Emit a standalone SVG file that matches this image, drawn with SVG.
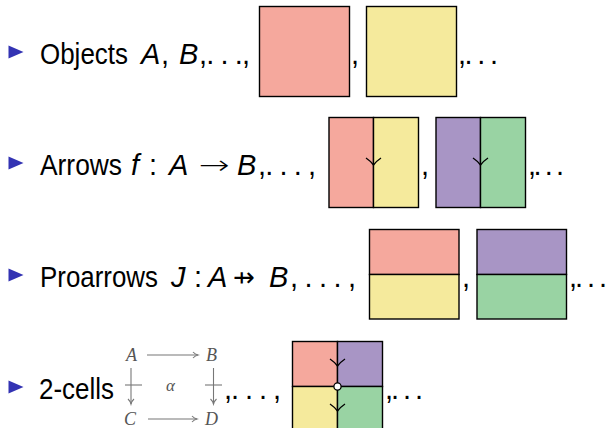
<svg xmlns="http://www.w3.org/2000/svg" width="608" height="428" viewBox="0 0 608 428">
<style>
.t{font-family:"Liberation Sans",Arial,sans-serif;font-size:29px;fill:#000}
.i{font-style:italic}
.sym{font-family:"DejaVu Sans",sans-serif;font-weight:200;font-size:26px;fill:#000}
.cd{font-family:"Liberation Serif","Times New Roman",serif;font-style:italic;font-size:18px;fill:#555}
.box{stroke:#000;stroke-width:1.4}
.pink{fill:#F5A89D}
.yel{fill:#F5EA9C}
.pur{fill:#A895C5}
.grn{fill:#99D3A3}
.tip{stroke:#000;stroke-width:1.3;fill:none}
.cdl{stroke:#777;stroke-width:1.1;fill:none}
.bul{fill:#3333B3}
</style>
<defs>
<path id="tri" d="M0,-6.5 L15,0 L0,6.5 Z"/>
<path id="vtip" d="M-7.5,-7 Q-3,-4 0,0 Q3,-4 7.5,-7"/>
<marker id="ah" markerWidth="8" markerHeight="8" refX="6" refY="4" orient="auto" markerUnits="userSpaceOnUse">
<path d="M1,1 Q3,3.2 6,4 Q3,4.8 1,7" stroke="#777" stroke-width="1.1" fill="none"/>
</marker>
</defs>

<g id="row1">
<use href="#tri" x="8.5" y="52" class="bul"/>
<text class="t" x="40" y="64" textLength="88" lengthAdjust="spacingAndGlyphs">Objects</text>
<text class="t i" x="141" y="64">A</text>
<text class="t" x="161" y="64">,</text>
<text class="t i" x="179" y="64">B</text>
<text class="t" x="199" y="64" textLength="51" lengthAdjust="spacing">,. . .,</text>
<rect class="box pink" x="259.5" y="6.5" width="90" height="90"/>
<text class="t" x="351" y="64">,</text>
<rect class="box yel" x="366.5" y="6.5" width="90" height="90"/>
<text class="t" x="458" y="64" textLength="40" lengthAdjust="spacing">,. . .</text>
</g>

<g id="row2">
<use href="#tri" x="8.5" y="163" class="bul"/>
<text class="t" x="40" y="175" textLength="82" lengthAdjust="spacingAndGlyphs">Arrows</text>
<text class="t i" x="131" y="175">f</text>
<text class="t" x="149" y="175">:</text>
<text class="t i" x="169" y="175">A</text>
<text class="sym" x="199" y="174" textLength="31" lengthAdjust="spacingAndGlyphs">→</text>
<text class="t i" x="237" y="175">B</text>
<text class="t" x="258" y="175" textLength="58" lengthAdjust="spacing">,. . . ,</text>
<rect class="box pink" x="329" y="117.5" width="44.5" height="90"/>
<rect class="box yel" x="373.5" y="117.5" width="45" height="90"/>
<use href="#vtip" x="373.5" y="165" class="tip"/>
<text class="t" x="421" y="175">,</text>
<rect class="box pur" x="436" y="117.5" width="44.5" height="90"/>
<rect class="box grn" x="480.5" y="117.5" width="45" height="90"/>
<use href="#vtip" x="480.5" y="165" class="tip"/>
<text class="t" x="528" y="175" textLength="36" lengthAdjust="spacing">,. . .</text>
</g>

<g id="row3">
<use href="#tri" x="8.5" y="275" class="bul"/>
<text class="t" x="40" y="287" textLength="118" lengthAdjust="spacingAndGlyphs">Proarrows</text>
<text class="t i" x="171" y="287">J</text>
<text class="t" x="194" y="287">:</text>
<text class="t i" x="208" y="287">A</text>
<text class="sym" x="233" y="286" textLength="22" lengthAdjust="spacingAndGlyphs">⇸</text>
<text class="t i" x="269" y="287">B</text>
<text class="t" x="290" y="287" textLength="66" lengthAdjust="spacing">, . . . ,</text>
<rect class="box pink" x="369.5" y="229.5" width="89.5" height="45"/>
<rect class="box yel" x="369.5" y="274.5" width="89.5" height="44.5"/>
<text class="t" x="462" y="287">,</text>
<rect class="box pur" x="477" y="229.5" width="89.5" height="45"/>
<rect class="box grn" x="477" y="274.5" width="89.5" height="44.5"/>
<text class="t" x="569" y="287" textLength="38" lengthAdjust="spacing">,. . .</text>
</g>

<g id="row4">
<use href="#tri" x="8.5" y="387" class="bul"/>
<text class="t" x="39" y="399" textLength="75" lengthAdjust="spacingAndGlyphs">2-cells</text>
<g id="square">
<text class="cd" x="126" y="361">A</text>
<text class="cd" x="206" y="361">B</text>
<text class="cd" x="124" y="425">C</text>
<text class="cd" x="205" y="425">D</text>
<text class="cd" x="166" y="391" style="font-size:17px">α</text>
<g id="connectors">
<line class="cdl" x1="147" y1="355" x2="198" y2="355" marker-end="url(#ah)"/>
<line class="cdl" x1="148" y1="419" x2="197" y2="419" marker-end="url(#ah)"/>
<line class="cdl" x1="131" y1="368" x2="131" y2="404" marker-end="url(#ah)"/>
<line class="cdl" x1="125" y1="385" x2="142" y2="385"/>
<line class="cdl" x1="213.5" y1="368" x2="213.5" y2="404" marker-end="url(#ah)"/>
<line class="cdl" x1="205" y1="385" x2="222" y2="385"/>
</g>
</g>
<text class="t" x="224" y="399" textLength="57" lengthAdjust="spacing">,. . . ,</text>
<rect class="box pink" x="292.5" y="341.5" width="45" height="45"/>
<rect class="box pur" x="337.5" y="341.5" width="45" height="45"/>
<rect class="box yel" x="292.5" y="386.5" width="45" height="45"/>
<rect class="box grn" x="337.5" y="386.5" width="45" height="45"/>
<use href="#vtip" x="337.5" y="366" class="tip"/>
<use href="#vtip" x="337.5" y="411" class="tip"/>
<circle cx="337.5" cy="386.5" r="3.6" fill="#fff" stroke="#000" stroke-width="1.3"/>
<text class="t" x="385" y="399" textLength="38" lengthAdjust="spacing">,. . .</text>
</g>
</svg>
